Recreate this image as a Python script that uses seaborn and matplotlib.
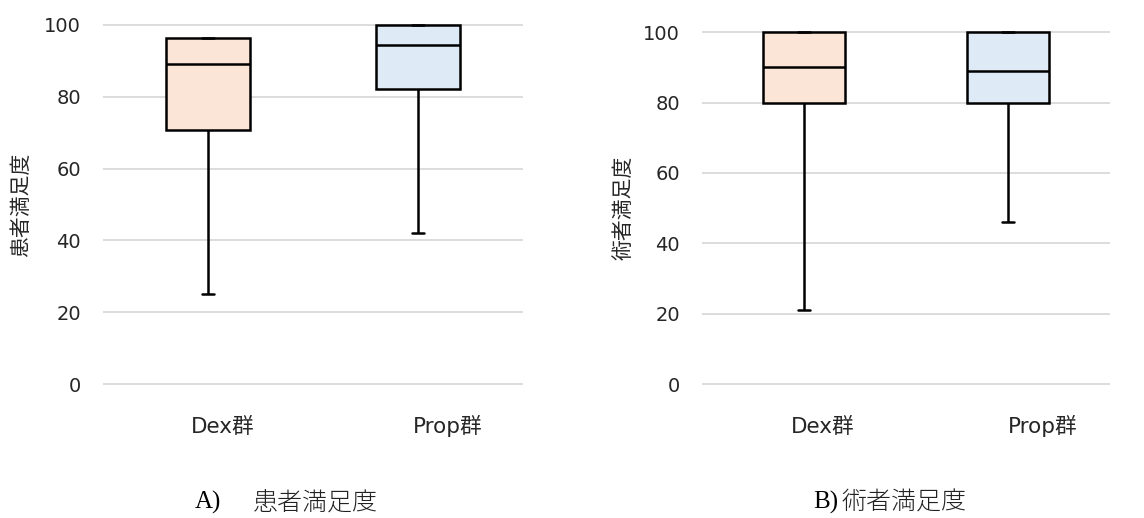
import matplotlib
matplotlib.use("Agg")
import matplotlib.pyplot as plt
import matplotlib.transforms as mtransforms
import seaborn as sns
import pandas as pd

# Categories and five-number summaries (min, Q1, median, Q3, max)
groups = ["Dex群", "Prop群"]
patient_dex = [25.0, 70.8, 89.0, 96.5, 96.5]
patient_prop = [42.0, 82.2, 94.5, 100.0, 100.0]
surgeon_dex = [21.0, 80.0, 90.0, 100.0, 100.0]
surgeon_prop = [46.0, 80.0, 89.0, 100.0, 100.0]
y_ticks = [0, 20, 40, 60, 80, 100]
y_labels = ["患者満足度", "術者満足度"]
panel_tags = ["A)", "B)"]
box_colors = ["#FBE5D6", "#DEEBF7"]

sns.set_theme(style="white")
plt.rcParams["font.family"] = ["DejaVu Sans", "Noto Sans CJK JP"]

W, H = 1144, 518
fig = plt.figure(figsize=(W / 100, H / 100), dpi=100)

ink = "#262626"
grid_color = "#D9D9D9"


def long_frame(a, b):
    return pd.DataFrame({
        "group": [groups[0]] * len(a) + [groups[1]] * len(b),
        "score": list(a) + list(b),
    })


# panel geometry in pixels: left, width, px per unit, ylabel centre
panels = [
    dict(data=long_frame(patient_dex, patient_prop), left=103, width=420,
         ppu=3.59, label=y_labels[0], label_x=21, shifts=(15, 30)),
    dict(data=long_frame(surgeon_dex, surgeon_prop), left=702, width=408,
         ppu=3.517, label=y_labels[1], label_x=624, shifts=(19, 35)),
]

for p in panels:
    bottom_px = 384 + p["ppu"]
    height_px = 102 * p["ppu"]
    ax = fig.add_axes([p["left"] / W, (H - bottom_px) / H,
                       p["width"] / W, height_px / H])
    sns.boxplot(
        data=p["data"], x="group", y="score", hue="group",
        order=groups, hue_order=groups, palette=box_colors,
        saturation=1, width=0.4, whis=(0, 100), linecolor="black",
        linewidth=1.8, legend=False, ax=ax, capwidths=0.054,
    )
    ax.set_xlim(-0.5, 1.5)
    ax.set_ylim(-1, 101)
    ax.set_yticks(y_ticks)
    ax.yaxis.grid(True, color=grid_color, linewidth=1.3)
    ax.set_axisbelow(True)
    for s in ax.spines.values():
        s.set_visible(False)
    ax.tick_params(axis="y", length=0, pad=16, labelsize=14, labelcolor=ink)
    ax.tick_params(axis="x", length=0, pad=33, labelsize=15.5, labelcolor=ink)
    ax.set_xlabel("")
    ax.set_ylabel(p["label"], fontsize=15, color=ink)
    ax.yaxis.label.set_verticalalignment("center")
    ax.yaxis.set_label_coords((p["label_x"] - p["left"]) / p["width"], 0.5)
    for lbl, dx in zip(ax.get_xticklabels(), p["shifts"]):
        lbl.set_verticalalignment("baseline")
        lbl.set_transform(lbl.get_transform() +
                          mtransforms.ScaledTranslation(dx / 100, 0, fig.dpi_scale_trans))

# panel captions
cap_y = (H - 502.5) / H
serif = ["Liberation Serif", "Noto Sans CJK JP"]
cjk = ["Noto Sans CJK JP"]
fig.text(195 / W, cap_y, panel_tags[0], family=serif, fontsize=18,
         ha="left", va="center", color="black")
fig.text(253 / W, cap_y, y_labels[0], family=cjk, fontsize=18, weight="light",
         ha="left", va="center", color="#222222")
fig.text(813 / W, cap_y, panel_tags[1], family=serif, fontsize=18,
         ha="left", va="center", color="black")
fig.text(842 / W, cap_y, y_labels[1], family=cjk, fontsize=18, weight="light",
         ha="left", va="center", color="#222222")

fig.savefig("out.png", dpi=100, facecolor="white")
